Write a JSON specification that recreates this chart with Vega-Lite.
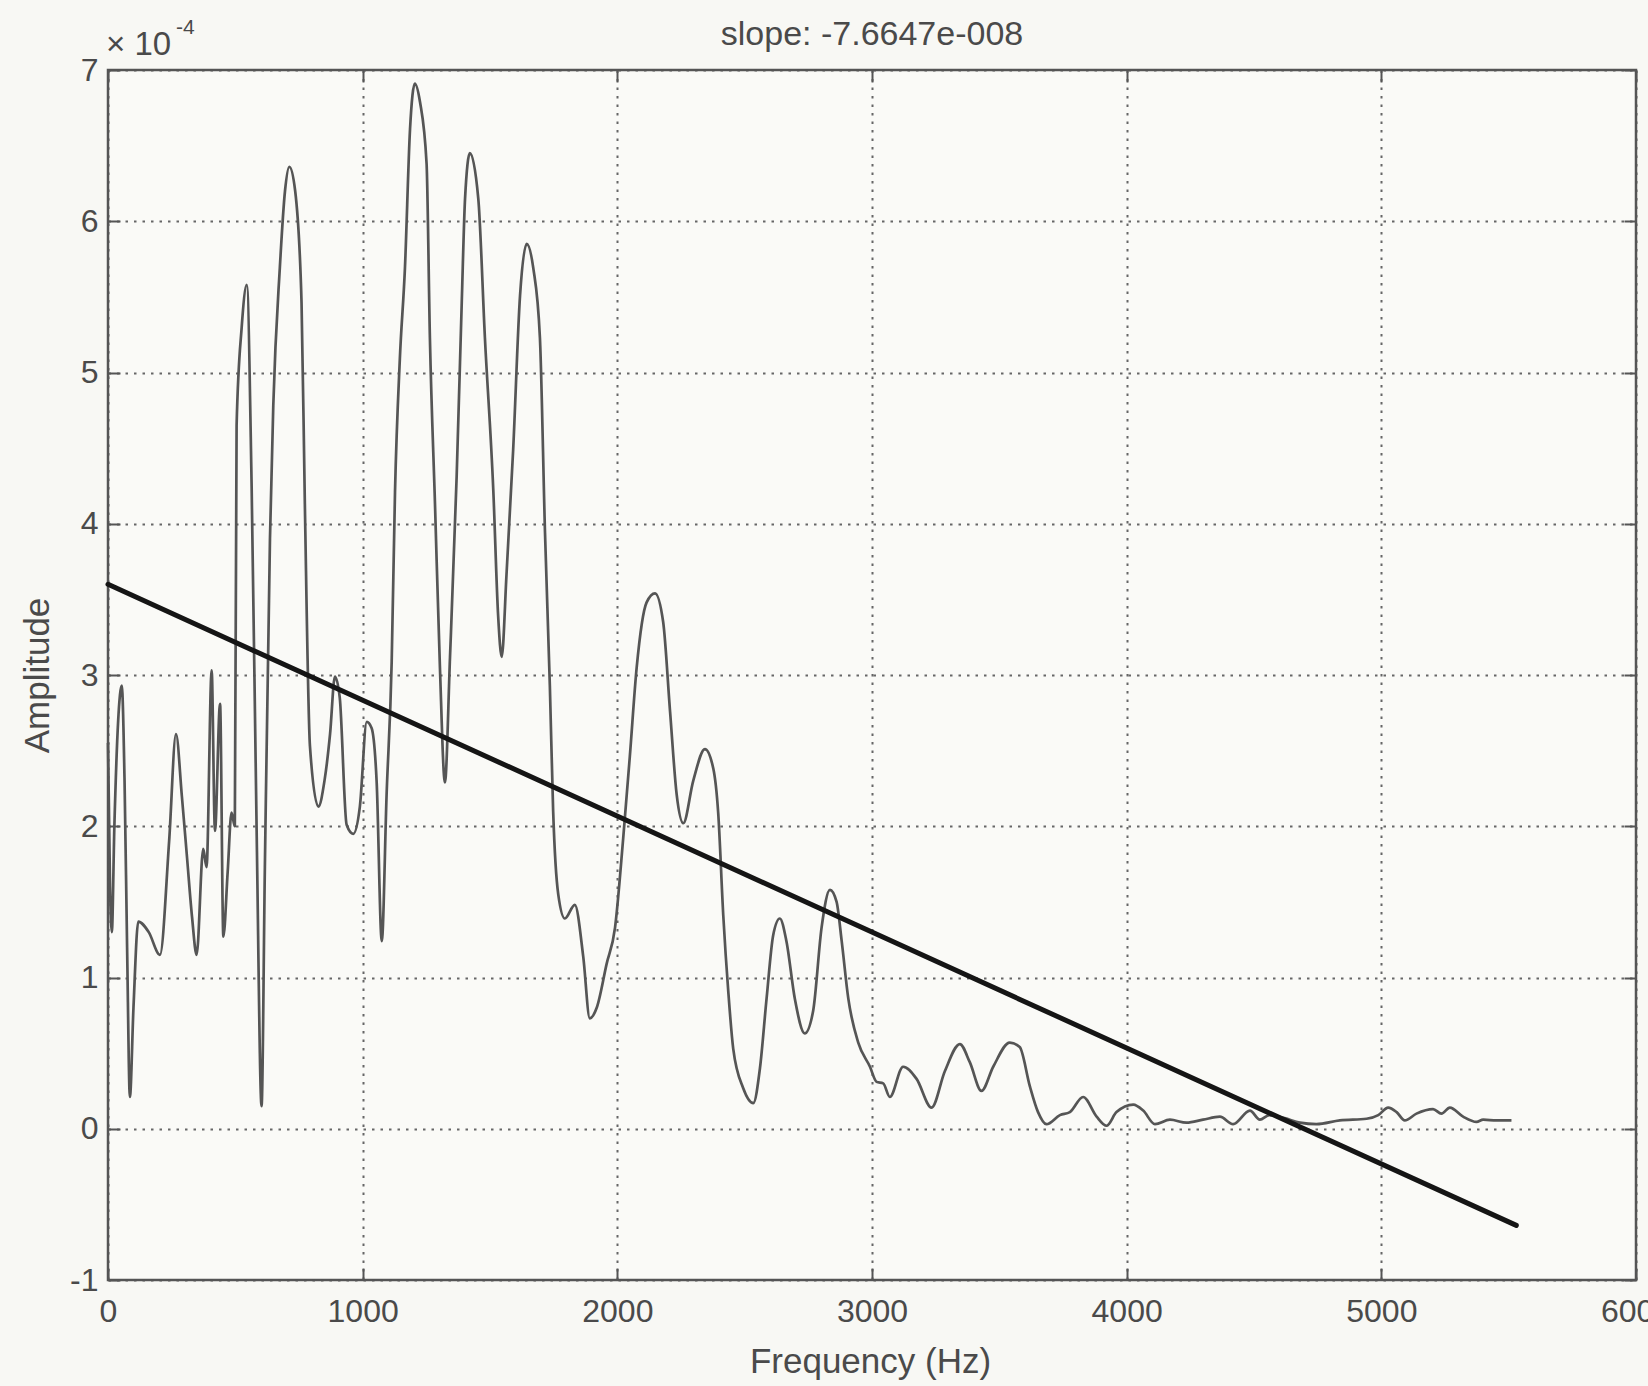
{
  "$schema": "https://vega.github.io/schema/vega-lite/v6.json",
  "width": 1528,
  "height": 1210,
  "autosize": {"type": "none"},
  "padding": {"left": 108, "top": 70, "right": 12, "bottom": 106},
  "background": "#f8f8f4",
  "config": {
    "view": {"stroke": "#555555", "strokeWidth": 2.5, "fill": "#fafaf7"},
    "font": "Liberation Sans",
    "axis": {"labelFont": "Liberation Sans", "titleFont": "Liberation Sans"}
  },
  "title": {
    "text": "slope: -7.6647e-008",
    "font": "Liberation Sans",
    "fontSize": 34,
    "fontWeight": "normal",
    "color": "#4a4a4a",
    "anchor": "middle",
    "frame": "group",
    "offset": -35
  },
  "datasets": {
    "spectrum": [
      {"f":0,"a":2.55},{"f":8,"a":1.6},{"f":15,"a":1.3},{"f":25,"a":2.0},{"f":40,"a":2.7},{"f":54,"a":2.93},{"f":65,"a":2.3},{"f":75,"a":1.2},{"f":86,"a":0.21},{"f":100,"a":0.8},{"f":119,"a":1.37},{"f":160,"a":1.3},{"f":204,"a":1.15},{"f":240,"a":1.9},{"f":267,"a":2.61},{"f":290,"a":2.2},{"f":310,"a":1.8},{"f":330,"a":1.4},{"f":348,"a":1.15},{"f":374,"a":1.85},{"f":387,"a":1.73},{"f":407,"a":3.03},{"f":420,"a":1.97},{"f":440,"a":2.81},{"f":453,"a":1.27},{"f":470,"a":1.7},{"f":485,"a":2.09},{"f":498,"a":2.0},{"f":505,"a":4.65},{"f":525,"a":5.3},{"f":545,"a":5.58},{"f":564,"a":4.25},{"f":584,"a":1.93},{"f":603,"a":0.15},{"f":616,"a":1.73},{"f":636,"a":3.9},{"f":649,"a":4.78},{"f":675,"a":5.7},{"f":695,"a":6.2},{"f":712,"a":6.36},{"f":735,"a":6.2},{"f":760,"a":5.46},{"f":773,"a":4.13},{"f":793,"a":2.53},{"f":826,"a":2.13},{"f":850,"a":2.3},{"f":872,"a":2.61},{"f":891,"a":2.99},{"f":910,"a":2.85},{"f":937,"a":2.01},{"f":963,"a":1.95},{"f":989,"a":2.13},{"f":1016,"a":2.69},{"f":1035,"a":2.65},{"f":1055,"a":2.29},{"f":1075,"a":1.24},{"f":1094,"a":2.21},{"f":1114,"a":3.09},{"f":1127,"a":4.21},{"f":1146,"a":5.09},{"f":1166,"a":5.69},{"f":1186,"a":6.61},{"f":1205,"a":6.91},{"f":1225,"a":6.79},{"f":1251,"a":6.38},{"f":1264,"a":5.23},{"f":1284,"a":4.13},{"f":1303,"a":3.07},{"f":1323,"a":2.29},{"f":1343,"a":3.12},{"f":1369,"a":4.31},{"f":1389,"a":5.46},{"f":1402,"a":6.15},{"f":1421,"a":6.45},{"f":1454,"a":6.15},{"f":1480,"a":5.23},{"f":1513,"a":4.22},{"f":1532,"a":3.39},{"f":1546,"a":3.12},{"f":1565,"a":3.67},{"f":1591,"a":4.49},{"f":1618,"a":5.51},{"f":1644,"a":5.85},{"f":1670,"a":5.69},{"f":1696,"a":5.23},{"f":1716,"a":3.94},{"f":1735,"a":2.93},{"f":1748,"a":2.1},{"f":1768,"a":1.55},{"f":1794,"a":1.39},{"f":1833,"a":1.48},{"f":1866,"a":1.14},{"f":1892,"a":0.73},{"f":1919,"a":0.8},{"f":1958,"a":1.09},{"f":1991,"a":1.33},{"f":2023,"a":1.92},{"f":2049,"a":2.46},{"f":2076,"a":3.05},{"f":2115,"a":3.48},{"f":2148,"a":3.54},{"f":2180,"a":3.35},{"f":2207,"a":2.76},{"f":2233,"a":2.21},{"f":2259,"a":2.02},{"f":2298,"a":2.3},{"f":2344,"a":2.51},{"f":2377,"a":2.38},{"f":2396,"a":2.09},{"f":2416,"a":1.41},{"f":2436,"a":0.9},{"f":2455,"a":0.53},{"f":2494,"a":0.27},{"f":2534,"a":0.17},{"f":2560,"a":0.4},{"f":2586,"a":0.86},{"f":2612,"a":1.28},{"f":2638,"a":1.39},{"f":2664,"a":1.24},{"f":2697,"a":0.86},{"f":2736,"a":0.63},{"f":2769,"a":0.78},{"f":2802,"a":1.33},{"f":2835,"a":1.58},{"f":2861,"a":1.5},{"f":2881,"a":1.24},{"f":2907,"a":0.86},{"f":2946,"a":0.57},{"f":2992,"a":0.41},{"f":3018,"a":0.31},{"f":3044,"a":0.3},{"f":3070,"a":0.21},{"f":3122,"a":0.41},{"f":3175,"a":0.33},{"f":3234,"a":0.14},{"f":3286,"a":0.38},{"f":3345,"a":0.56},{"f":3384,"a":0.44},{"f":3430,"a":0.25},{"f":3476,"a":0.41},{"f":3541,"a":0.57},{"f":3580,"a":0.54},{"f":3620,"a":0.28},{"f":3652,"a":0.11},{"f":3685,"a":0.03},{"f":3738,"a":0.09},{"f":3777,"a":0.11},{"f":3829,"a":0.21},{"f":3882,"a":0.08},{"f":3921,"a":0.02},{"f":3960,"a":0.11},{"f":4026,"a":0.16},{"f":4065,"a":0.12},{"f":4111,"a":0.03},{"f":4170,"a":0.06},{"f":4235,"a":0.04},{"f":4300,"a":0.06},{"f":4366,"a":0.08},{"f":4418,"a":0.03},{"f":4484,"a":0.12},{"f":4523,"a":0.06},{"f":4560,"a":0.09},{"f":4620,"a":0.07},{"f":4680,"a":0.04},{"f":4745,"a":0.03},{"f":4837,"a":0.055},{"f":4942,"a":0.066},{"f":4988,"a":0.09},{"f":5027,"a":0.14},{"f":5060,"a":0.11},{"f":5092,"a":0.055},{"f":5138,"a":0.1},{"f":5203,"a":0.13},{"f":5236,"a":0.1},{"f":5269,"a":0.14},{"f":5321,"a":0.08},{"f":5374,"a":0.045},{"f":5400,"a":0.06},{"f":5452,"a":0.055},{"f":5511,"a":0.055}
    ],
    "fit": [
      {"f":0,"a":3.6},{"f":5530,"a":-0.639}
    ],
    "exponent": [
      {"f":0,"a":7,"base":"× 10","sup":"-4"}
    ]
  },
  "resolve": {"axis": {"x": "independent", "y": "independent"}},
  "layer": [
    {
      "data": {"name": "spectrum"},
      "mark": {"type": "line", "color": "#555555", "strokeWidth": 2.7, "interpolate": "monotone", "strokeJoin": "round"},
      "encoding": {
        "x": {
          "field": "f", "type": "quantitative",
          "scale": {"domain": [0, 6000], "nice": false, "zero": false},
          "axis": {
            "orient": "bottom",
            "title": "Frequency (Hz)",
            "titleFontSize": 35, "titleFontWeight": "normal", "titleColor": "#4a4a4a",
            "titleX": 762, "titleY": 92, "titleBaseline": "alphabetic", "titleAnchor": null,
            "values": [0, 1000, 2000, 3000, 4000, 5000, 6000],
            "labelExpr": "'' + datum.value",
            "labelFontSize": 32, "labelColor": "#4a4a4a",
            "labelFlush": false, "labelOverlap": false, "labelBound": false,
            "labelPadding": 28,
            "domain": false,
            "ticks": true, "tickSize": -12, "tickColor": "#555555", "tickWidth": 2,
            "grid": true, "gridColor": "#555555", "gridWidth": 2, "gridDash": [2.5, 6], "gridOpacity": 0.9
          }
        },
        "y": {
          "field": "a", "type": "quantitative",
          "scale": {"domain": [-1, 7], "nice": false, "zero": false},
          "axis": {
            "orient": "left",
            "title": "Amplitude",
            "titleFontSize": 35, "titleFontWeight": "normal", "titleColor": "#4a4a4a",
            "titleAngle": -90, "titleX": -71, "titleY": 605, "titleBaseline": "middle", "titleAlign": "center", "titleAnchor": null,
            "values": [-1, 0, 1, 2, 3, 4, 5, 6, 7],
            "labelExpr": "'' + datum.value",
            "labelFontSize": 32, "labelColor": "#4a4a4a",
            "labelFlush": false, "labelOverlap": false, "labelBound": false,
            "labelPadding": 22,
            "domain": false,
            "ticks": true, "tickSize": -12, "tickColor": "#555555", "tickWidth": 2,
            "grid": true, "gridColor": "#555555", "gridWidth": 2, "gridDash": [2.5, 6], "gridOpacity": 0.9
          }
        }
      }
    },
    {
      "data": {"name": "fit"},
      "mark": {"type": "line", "color": "#151515", "strokeWidth": 5, "strokeCap": "round"},
      "encoding": {
        "x": {
          "field": "f", "type": "quantitative",
          "axis": {"orient": "top", "title": null, "labels": false, "domain": false, "grid": false,
                   "values": [0, 1000, 2000, 3000, 4000, 5000, 6000],
                   "ticks": true, "tickSize": -12, "tickColor": "#555555", "tickWidth": 2}
        },
        "y": {
          "field": "a", "type": "quantitative",
          "axis": {"orient": "right", "title": null, "labels": false, "domain": false, "grid": false,
                   "values": [-1, 0, 1, 2, 3, 4, 5, 6, 7],
                   "ticks": true, "tickSize": -12, "tickColor": "#555555", "tickWidth": 2}
        }
      }
    },
    {
      "data": {"name": "exponent"},
      "mark": {"type": "text", "align": "left", "baseline": "alphabetic", "dx": -2, "dy": -15, "fontSize": 33, "color": "#4a4a4a", "font": "Liberation Sans"},
      "encoding": {
        "x": {"field": "f", "type": "quantitative", "axis": null},
        "y": {"field": "a", "type": "quantitative", "axis": null},
        "text": {"field": "base"}
      }
    },
    {
      "data": {"name": "exponent"},
      "mark": {"type": "text", "align": "left", "baseline": "alphabetic", "dx": 68, "dy": -36, "fontSize": 21, "color": "#4a4a4a", "font": "Liberation Sans"},
      "encoding": {
        "x": {"field": "f", "type": "quantitative", "axis": null},
        "y": {"field": "a", "type": "quantitative", "axis": null},
        "text": {"field": "sup"}
      }
    }
  ]
}
